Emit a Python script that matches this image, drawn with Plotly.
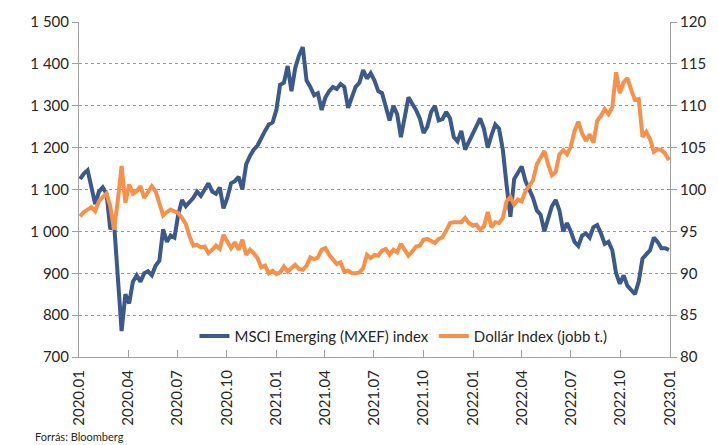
import pandas as pd
import plotly.graph_objects as go

# Weekly closes (Fridays), 2020-01-03 .. 2022-12-30
week_start = "2020-01-03"
n_weeks = 157

msci_em = [
    # 2020
    1125, 1138, 1146, 1105, 1065, 1095, 1105, 1090, 1005, 1020, 900, 762, 850, 828,
    880, 895, 880, 900, 905, 895, 918, 930, 1005, 975, 990, 985, 1040, 1075, 1060,
    1070, 1080, 1095, 1085, 1100, 1115, 1095, 1090, 1105, 1055, 1080, 1115, 1120,
    1130, 1100, 1160, 1180, 1195, 1205, 1225, 1240, 1255, 1260,
    # 2021
    1290, 1350, 1355, 1395, 1335, 1390, 1420, 1440, 1360, 1345, 1325, 1330, 1290,
    1320, 1335, 1345, 1340, 1352, 1345, 1295, 1320, 1345, 1355, 1385, 1365, 1378,
    1360, 1335, 1330, 1300, 1265, 1300, 1280, 1225, 1275, 1320, 1305, 1290, 1270,
    1235, 1250, 1285, 1300, 1265, 1268, 1285, 1270, 1225, 1215, 1240, 1195, 1215,
    1230,
    # 2022
    1255, 1270, 1245, 1200, 1230, 1255, 1245, 1195, 1110, 1035, 1125, 1140, 1155,
    1120, 1100, 1080, 1050, 1040, 1000, 1030, 1060, 1075, 1050, 1000, 1020, 1000,
    975, 965, 990, 995, 985, 1010, 1015, 995, 970, 975, 955, 900, 875, 895, 870,
    860, 850, 880, 935, 945, 955, 985, 975, 960, 960, 956,
]

dollar_index = [
    # 2020
    96.8, 97.3, 97.6, 97.9, 97.4, 98.6, 99.1, 99.5, 98.0, 95.2, 98.7, 102.8, 98.4,
    100.6, 99.5, 99.8, 100.4, 99.0, 99.7, 100.4, 99.8, 98.3, 96.9, 97.3, 97.6, 97.4,
    97.2, 96.6, 95.9, 94.4, 93.3, 93.4, 93.1, 93.2, 92.4, 92.8, 93.3, 92.9, 94.6,
    93.8, 93.0, 93.7, 92.8, 94.0, 92.2, 92.8, 92.4, 91.8, 90.7, 90.9, 90.0, 90.3,
    # 2021
    89.9, 90.1, 90.8, 90.2, 90.6, 91.0, 90.5, 90.4, 90.9, 91.9, 91.7, 91.9, 92.8,
    93.0, 92.2, 91.6, 91.1, 91.3, 90.2, 90.3, 90.0, 90.0, 90.1, 90.6, 92.2, 91.8,
    92.2, 92.1, 92.7, 92.9, 92.2, 92.8, 92.5, 93.5, 92.7, 92.1, 92.6, 93.2, 93.3,
    94.0, 94.1, 93.9, 93.6, 94.1, 94.3, 95.1, 96.0, 96.1, 96.1, 96.1, 96.6, 96.0,
    95.7,
    # 2022
    95.8, 95.2, 95.6, 97.3, 95.5, 96.1, 96.0, 96.6, 98.6, 99.1, 98.2, 98.8, 98.6,
    99.8, 100.5, 101.1, 103.0, 103.7, 104.6, 103.0, 101.7, 102.1, 104.2, 104.7,
    104.2, 105.1, 107.0, 108.1, 106.7, 105.8, 106.6, 105.6, 108.2, 108.8, 109.6,
    109.0, 109.8, 114.0, 111.5, 112.8, 113.3, 111.9, 110.7, 110.8, 106.3, 106.9,
    106.0, 104.5, 104.8, 104.7, 104.3, 103.5,
]

tick_dates = [
    "2020-01-01", "2020-04-01", "2020-07-01", "2020-10-01",
    "2021-01-01", "2021-04-01", "2021-07-01", "2021-10-01",
    "2022-01-01", "2022-04-01", "2022-07-01", "2022-10-01", "2023-01-01",
]
tick_labels = [
    "2020.01", "2020.04", "2020.07", "2020.10",
    "2021.01", "2021.04", "2021.07", "2021.10",
    "2022.01", "2022.04", "2022.07", "2022.10", "2023.01",
]

dates = pd.date_range(week_start, periods=n_weeks, freq="7D")

BLUE = "#3b5a8b"
ORANGE = "#f8904a"
TEXT = "#262626"
AXIS = "#a0a0a0"
FONT = "Lato"

fig = go.Figure()
fig.add_trace(go.Scatter(
    x=dates, y=msci_em, name="MSCI Emerging (MXEF) index",
    mode="lines", line=dict(color=BLUE, width=4), yaxis="y",
))
fig.add_trace(go.Scatter(
    x=dates, y=dollar_index, name="Dollár Index (jobb t.)",
    mode="lines", line=dict(color=ORANGE, width=4), yaxis="y2",
))

fig.update_layout(
    width=718, height=445,
    margin=dict(l=79, r=45, t=17, b=88),
    paper_bgcolor="white", plot_bgcolor="white",
    separators=", ",
    font=dict(family=FONT, size=15, color=TEXT),
    showlegend=True,
    legend=dict(
        orientation="h", x=0.549, xanchor="center", y=0.062, yanchor="middle",
        bgcolor="rgba(255,255,255,0)", font=dict(family=FONT, size=15, color=TEXT),
        itemwidth=30, traceorder="normal",
    ),
    xaxis=dict(
        type="date", range=["2020-01-01", "2023-01-01"],
        tickvals=tick_dates, ticktext=tick_labels, tickangle=-90,
        showgrid=False, showline=True, linecolor=AXIS, linewidth=1,
        ticks="inside", ticklen=7, tickcolor=AXIS,
        ticklabelstandoff=6,
        tickfont=dict(family=FONT, size=15, color=TEXT),
        zeroline=False,
    ),
    yaxis=dict(
        range=[700, 1500], dtick=100, tickformat=",d",
        showgrid=True, gridcolor="#9a9a9a", griddash="dot", gridwidth=1,
        showline=True, linecolor=AXIS, linewidth=1,
        ticks="outside", ticklen=6, tickcolor=AXIS,
        tickfont=dict(family=FONT, size=15, color=TEXT),
        zeroline=False,
    ),
    yaxis2=dict(
        range=[80, 120], dtick=5, overlaying="y", side="right",
        showgrid=False, showline=True, linecolor=AXIS, linewidth=1,
        ticks="outside", ticklen=6, tickcolor=AXIS,
        tickfont=dict(family=FONT, size=15, color=TEXT),
        zeroline=False,
    ),
)

fig.add_annotation(
    text="Forrás: Bloomberg", xref="paper", yref="paper",
    x=-0.078, y=-0.238, xanchor="left", yanchor="middle", showarrow=False,
    font=dict(family=FONT, size=11, color=TEXT),
)

fig.write_html("out.html")
